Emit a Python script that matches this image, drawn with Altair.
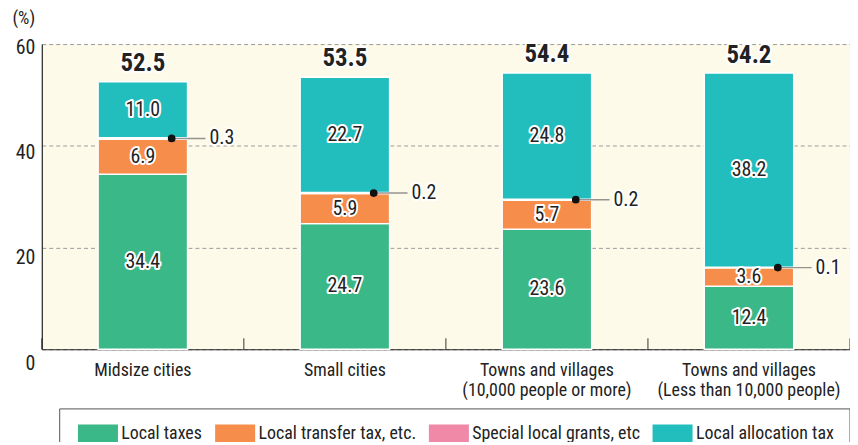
import altair as alt
import pandas as pd

categories = [
    "Midsize cities",
    "Small cities",
    "Towns and villages|(10,000 people or more)",
    "Towns and villages|(Less than 10,000 people)",
]
series = ["Local taxes", "Local transfer tax, etc.", "Special local grants, etc", "Local allocation tax"]
local_taxes = [34.4, 24.7, 23.6, 12.4]
transfer_tax = [6.9, 5.9, 5.7, 3.6]
special_grants = [0.3, 0.2, 0.2, 0.1]
allocation_tax = [11.0, 22.7, 24.8, 38.2]
totals = [52.5, 53.5, 54.4, 54.2]
colors = ["#3AB887", "#F68D4A", "#F088A8", "#22BDBD"]
y_ticks = [0, 20, 40, 60]

FONT = "Liberation Sans Narrow, Roboto Condensed, DejaVu Sans Condensed, Arial Narrow, sans-serif"

rows = []
for i, cat in enumerate(categories):
    base = 0.0
    for j, (name, vals) in enumerate(zip(series, [local_taxes, transfer_tax, special_grants, allocation_tax])):
        v = vals[i]
        rows.append({"cat": cat, "series": name, "order": j, "value": v,
                     "y0": base, "y1": base + v, "mid": base + v / 2, "label": f"{v:.1f}"})
        base += v
df = pd.DataFrame(rows)
seg_df = df[df["series"] != "Special local grants, etc"]
spec_df = df[df["series"] == "Special local grants, etc"]
tot_df = pd.DataFrame({"cat": categories, "total": totals, "label": [f"{t:.1f}" for t in totals]})

x_axis = alt.Axis(labelAngle=0, labelExpr="split(datum.label, '|')", ticks=False,
                  domainColor="#222", domainWidth=1.2, labelPadding=12, labelFontSize=18,
                  labelBaseline="top", labelLineHeight=21, labelLimit=400,
                  labelFont=FONT, labelColor="#222")
y_axis = alt.Axis(values=y_ticks, grid=True, gridDash=[4, 3], gridColor="#9a9a9a", gridWidth=1,
                  domainColor="#222", domainWidth=1.2, tickSize=0, labelPadding=7,
                  labelFontSize=20, labelFont=FONT, labelColor="#222",
                  labelOffset={"condition": [
                      {"test": "datum.value == 0", "value": 14},
                      {"test": "datum.value == 20", "value": 10},
                      {"test": "datum.value == 40", "value": 7}], "value": 3},
                  title="(%)", titleAngle=0, titleX=-30, titleY=-26, titleAlign="left",
                  titleBaseline="middle", titleFontSize=18, titleFontWeight="normal",
                  titleFont=FONT, titleColor="#222")
x_scale = alt.Scale(paddingInner=0, paddingOuter=0)
y_scale = alt.Scale(domain=[0, 60], nice=False)


def X(**kw):
    return alt.X("cat:N", sort=categories, title=None, scale=x_scale, axis=x_axis, **kw)


def Y(field):
    return alt.Y(f"{field}:Q", title="(%)", scale=y_scale, axis=y_axis)


bars = alt.Chart(df).mark_bar(size=90, stroke="white", strokeWidth=1.5).encode(
    x=X(),
    y=Y("y1"),
    y2="y0:Q",
    color=alt.Color("series:N", sort=series, scale=alt.Scale(domain=series, range=colors),
                    legend=alt.Legend(orient="none", legendX=36, legendY=372, direction="horizontal",
                                      title=None, symbolType="M-1,-0.5L1,-0.5L1,0.5L-1,0.5Z",
                                      symbolSize=1620, symbolStrokeWidth=0, symbolOpacity=1,
                                      labelFontSize=18, labelOffset=3, columnPadding=12, padding=0,
                                      labelLimit=300, labelFont=FONT, labelColor="#222")),
    order="order:Q",
)


def halo_text(data, ycol, **kw):
    enc = dict(x=X(), y=Y(ycol), text="label:N")
    h = alt.Chart(data).mark_text(stroke="white", strokeWidth=4, strokeJoin="round", fill="white", **kw).encode(**enc)
    t = alt.Chart(data).mark_text(fill="#222", **kw).encode(**enc)
    return h, t


seg_h, seg_t = halo_text(seg_df, "mid", font=FONT, fontSize=20, baseline="middle", align="center")
tot_h, tot_t = halo_text(tot_df, "total", font=FONT, fontSize=25, fontWeight="bold",
                         baseline="bottom", align="center", dy=-6)
call_h, call_t = halo_text(spec_df, "mid", font=FONT, fontSize=20, baseline="middle", align="left", xOffset=67)

call_line = alt.Chart(spec_df).mark_tick(size=34, thickness=1.5, color="#666", xOffset=46, orient="horizontal").encode(
    x=X(), y=Y("mid"))
call_dot = alt.Chart(spec_df).mark_circle(size=60, color="#111", opacity=1, xOffset=29).encode(
    x=X(), y=Y("mid"))

bnd_ticks = alt.Chart(tot_df).mark_rule(color="#333", strokeWidth=1).encode(
    x=X(bandPosition=0), y=alt.value(307), y2=alt.value(296))
one = pd.DataFrame({"k": [0]})
end_tick = alt.Chart(one).mark_rule(color="#333", strokeWidth=1).encode(
    x=alt.value(813), y=alt.value(307), y2=alt.value(296))
legend_box = alt.Chart(one).mark_rect(fill="white", stroke="#555", strokeWidth=1).encode(
    x=alt.value(18), x2=alt.value(813), y=alt.value(367), y2=alt.value(440))

chart = alt.layer(
    bars, legend_box, seg_h, seg_t, call_line, call_dot, call_h, call_t, tot_h, tot_t, bnd_ticks, end_tick
).properties(
    width=813, height=307,
    padding={"left": 34, "top": 35, "right": 0, "bottom": 92},
    autosize="none",
).configure_view(fill="#FEFAE9", stroke=None).configure_text(font=FONT)

chart.save("out.html", embed_options={"renderer": "svg", "actions": False})
